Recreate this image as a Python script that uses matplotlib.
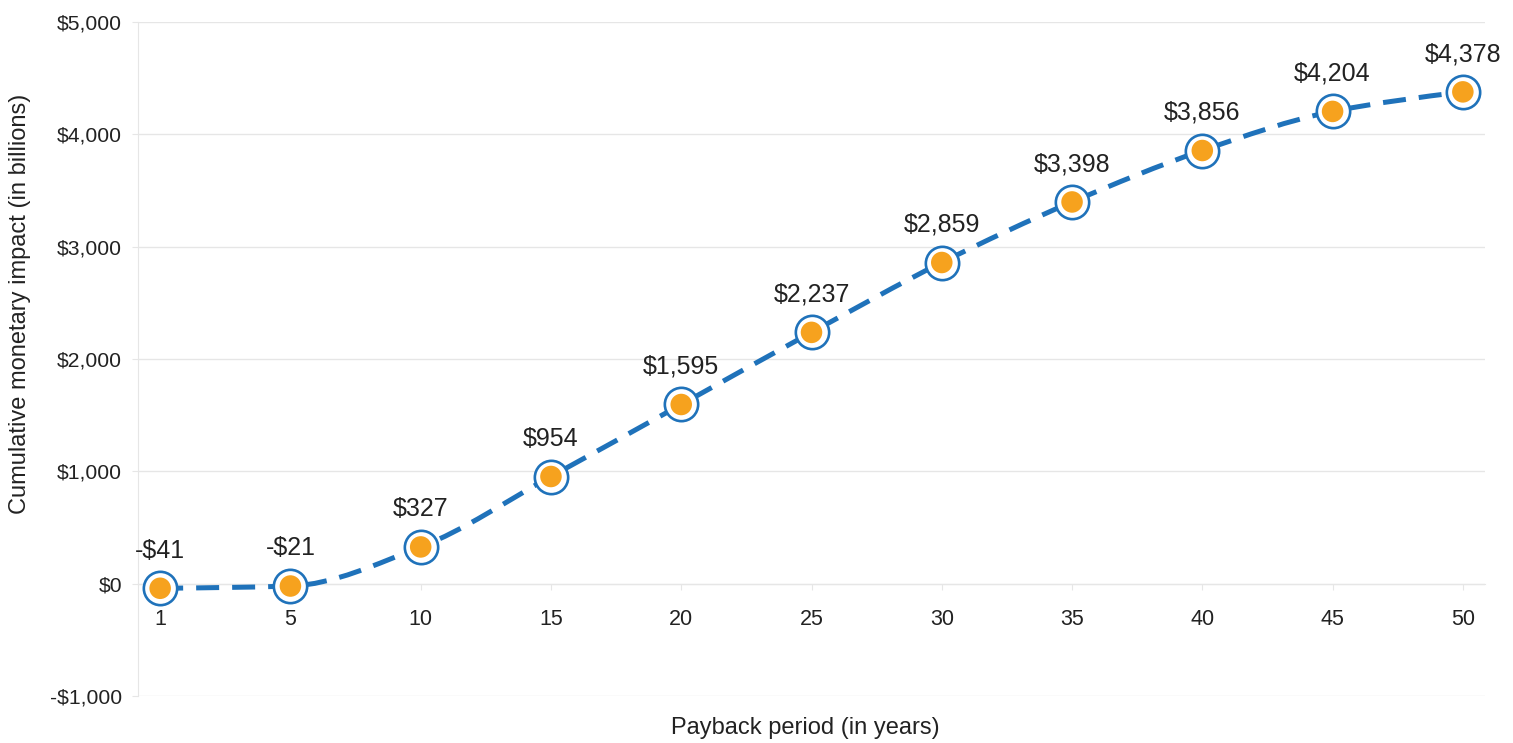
import numpy as np
import matplotlib.pyplot as plt
from matplotlib.path import Path
from matplotlib.patches import PathPatch

plt.rcParams['font.family'] = ['Liberation Sans', 'DejaVu Sans']

years = ['1', '5', '10', '15', '20', '25', '30', '35', '40', '45', '50']
impact = [-41, -21, 327, 954, 1595, 2237, 2859, 3398, 3856, 4204, 4378]
labels = ['-$41', '-$21', '$327', '$954', '$1,595', '$2,237', '$2,859',
          '$3,398', '$3,856', '$4,204', '$4,378']
yticks = [-1000, 0, 1000, 2000, 3000, 4000, 5000]
ytick_labels = ['-$1,000', '$0', '$1,000', '$2,000', '$3,000', '$4,000', '$5,000']

blue = '#1f72ba'
orange = '#f6a21e'
grid = '#e6e6e6'
txt = '#222222'

fig = plt.figure(figsize=(15.13, 7.43), dpi=100)
ax = fig.add_axes([138/1513, 1-696/743, (1485-138)/1513, (696-22)/743])

x = np.arange(len(years), dtype=float)
y = np.array(impact, dtype=float)

# monotone cubic tangents, the curve itself is drawn by matplotlib as bezier segments
n = len(x)
d = np.diff(y) / np.diff(x)
m = np.zeros(n)
for i in range(1, n-1):
    if d[i-1] * d[i] > 0:
        m[i] = 2 / (1/d[i-1] + 1/d[i])
m[0] = (3*d[0] - m[1]) / 2
m[-1] = (3*d[-1] - m[-2]) / 2

verts = [(x[0], y[0])]
codes = [Path.MOVETO]
for i in range(n-1):
    dx = (x[i+1]-x[i]) / 3
    verts += [(x[i]+dx, y[i]+m[i]*dx), (x[i+1]-dx, y[i+1]-m[i+1]*dx), (x[i+1], y[i+1])]
    codes += [Path.CURVE4]*3
curve = PathPatch(Path(verts, codes), fill=False, edgecolor=blue, lw=3.6,
                  linestyle=(0, (4.6, 2.6)), capstyle='butt', zorder=3)
ax.add_patch(curve)

ax.scatter(x, y, s=24**2, facecolor='white', edgecolor=blue, linewidth=1.9, zorder=4)
ax.scatter(x, y, s=15.5**2, facecolor=orange, edgecolor='none', zorder=5)

for xi, yi, lab in zip(x, y, labels):
    ax.annotate(lab, (xi, yi), xytext=(0, 18.5), textcoords='offset points',
                ha='center', va='bottom', fontsize=18, color=txt, zorder=6)

ax.set_xlim(-0.17, 10.17)
ax.set_ylim(-1000, 5000)
ax.set_xticks(x)
ax.set_xticklabels(years)
ax.set_yticks(yticks)
ax.set_yticklabels(ytick_labels)
ax.grid(axis='y', color=grid, lw=1)
ax.set_axisbelow(True)

for s in ['top', 'right']:
    ax.spines[s].set_visible(False)
ax.spines['bottom'].set_position(('data', 0))
ax.spines['bottom'].set_color(grid)
ax.spines['left'].set_color(grid)
ax.tick_params(axis='x', length=4.5, color=grid, pad=14, labelsize=15.5, labelcolor=txt)
ax.tick_params(axis='y', length=4.5, color=grid, pad=7, labelsize=15.2, labelcolor=txt)

fig.text(20/1513, 1-304/743, 'Cumulative monetary impact (in billions)', rotation=90,
         ha='center', va='center', fontsize=17, color=txt)
fig.text(805/1513, 1-728/743, 'Payback period (in years)', ha='center', va='center',
         fontsize=17, color=txt)

fig.savefig('out.png', dpi=100)
